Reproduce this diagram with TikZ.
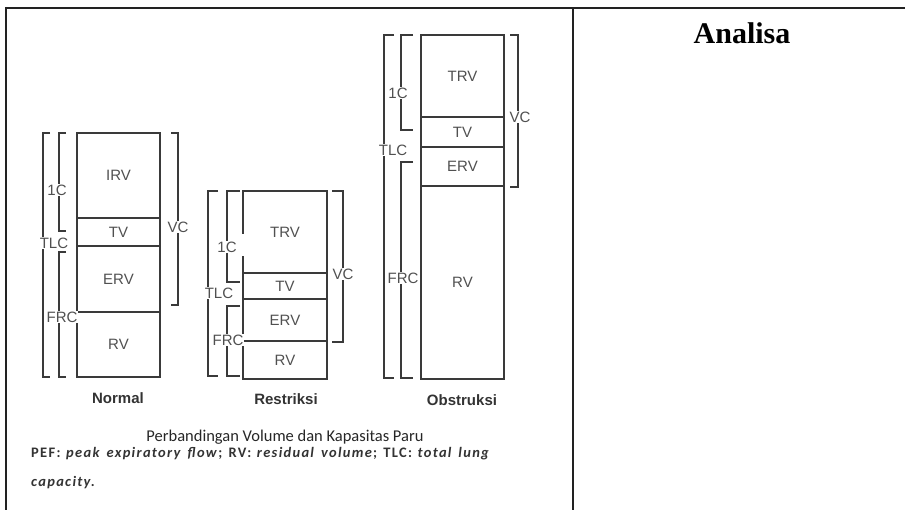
\documentclass[tikz,border=0pt]{standalone}
\usepackage{fontspec}
\setmainfont{Liberation Sans}
\newfontfamily\calfont{Carlito}
\newfontfamily\tmsfont{Liberation Serif}
\definecolor{lineg}{HTML}{3A3A3A}
\definecolor{textg}{HTML}{505050}
\definecolor{tabk}{HTML}{222222}
\begin{document}
\begin{tikzpicture}[x=1pt,y=-1pt,
  seg/.style={draw=lineg, line width=1.8pt, rectangle, inner sep=0pt, outer sep=0pt,
     font=\fontsize{15}{16}\selectfont, text=textg},
  brk/.style={draw=lineg, line width=1.8pt},
  blab/.style={fill=white, inner sep=0.3pt, font=\fontsize{15}{16}\selectfont, text=textg},
  ttl/.style={font=\bfseries\fontsize{15}{16}\selectfont, text=black!80},
  tab/.style={draw=tabk, line width=2pt}]
\useasboundingbox (0,0) rectangle (905,510);
% table
\draw[tab] (6,8) -- (905,8);
\draw[tab] (6,7) -- (6,510);
\draw[tab] (573,8) -- (573,510);
\node[font=\tmsfont\bfseries\fontsize{30}{32}\selectfont] (analisa) at (742,33) {Analisa};

% ---------- Normal ----------
\node[seg, minimum width=83pt, minimum height=85pt, anchor=north west] (nirv) at (77,133) {IRV};
\node[seg, minimum width=83pt, minimum height=28pt, anchor=north west] (ntv) at (77,218) {TV};
\node[seg, minimum width=83pt, minimum height=66pt, anchor=north west] (nerv) at (77,246) {ERV};
\node[seg, minimum width=83pt, minimum height=65pt, anchor=north west] (nrv) at (77,312) {RV};
\draw[brk] (50,133) -- (43,133) -- (43,377) -- (50,377);
\draw[brk] (66,133) -- (59,133) -- (59,231) -- (66,231);
\draw[brk] (66,252) -- (59,252) -- (59,377) -- (66,377);
\draw[brk] (171,133) -- (178,133) -- (178,305) -- (171,305);
\node[blab] (ntlc) at (54,243) {TLC};
\node[blab] (n1c) at (57,190) {1C};
\node[blab] (nfrc) at (62,317) {FRC};
\node[blab] (nvc) at (178,227) {VC};
\node[ttl] (normal) at (118,398) {Normal};

% ---------- Restriksi ----------
\node[seg, minimum width=84pt, minimum height=82pt, anchor=north west] (rtrv) at (243,191) {TRV};
\node[seg, minimum width=84pt, minimum height=26pt, anchor=north west] (rtv) at (243,273) {TV};
\node[seg, minimum width=84pt, minimum height=42pt, anchor=north west] (rerv) at (243,299) {ERV};
\node[seg, minimum width=84pt, minimum height=38pt, anchor=north west] (rrv) at (243,341) {RV};
\draw[white, line width=3pt] (243,234) -- (243,256);
\draw[brk] (218,191) -- (208,191) -- (208,376) -- (218,376);
\draw[brk] (240,191) -- (227,191) -- (227,282) -- (240,282);
\draw[brk] (240,306) -- (227,306) -- (227,376) -- (240,376);
\draw[brk] (332,191) -- (343,191) -- (343,342) -- (332,342);
\node[blab] (rtlc) at (219,293) {TLC};
\node[blab] (r1c) at (227,247) {1C};
\node[blab] (rfrc) at (228,340) {FRC};
\node[blab] (rvc) at (343,274) {VC};
\node[ttl] (restriksi) at (286,399) {Restriksi};

% ---------- Obstruksi ----------
\node[seg, minimum width=83pt, minimum height=82pt, anchor=north west] (otrv) at (421,35) {TRV};
\node[seg, minimum width=83pt, minimum height=30pt, anchor=north west] (otv) at (421,117) {TV};
\node[seg, minimum width=83pt, minimum height=39pt, anchor=north west] (oerv) at (421,147) {ERV};
\node[seg, minimum width=83pt, minimum height=193pt, anchor=north west] (orv) at (421,186) {RV};
\draw[brk] (394,35) -- (384,35) -- (384,378) -- (394,378);
\draw[brk] (413,35) -- (401,35) -- (401,130) -- (413,130);
\draw[brk] (413,162) -- (401,162) -- (401,378) -- (413,378);
\draw[brk] (510,35) -- (518,35) -- (518,187) -- (510,187);
\node[blab] (otlc) at (393,150) {TLC};
\node[blab] (o1c) at (398,93) {1C};
\node[blab] (ofrc) at (403,278) {FRC};
\node[blab] (ovc) at (520,117) {VC};
\node[ttl] (obstruksi) at (462,400) {Obstruksi};

% ---------- caption ----------
\node[inner sep=0pt, font=\calfont\fontsize{16.5}{18}\selectfont, text=black!85] (caption) at (285,437)
  {Perbandingan Volume dan Kapasitas Paru};
\node[anchor=north west, inner sep=0pt, align=left,
  font=\calfont\bfseries\fontsize{14.5}{29}\selectfont, text=black!80] (note) at (31,447)
  {\addfontfeature{LetterSpace=9}\makebox[459pt][s]{PEF: \textit{peak} \textit{expiratory} \textit{flow}; RV: \textit{residual} \textit{volume}; TLC: \textit{total} \textit{lung}}\\
   \addfontfeature{LetterSpace=9}\textit{capacity.}};
\end{tikzpicture}
\end{document}
